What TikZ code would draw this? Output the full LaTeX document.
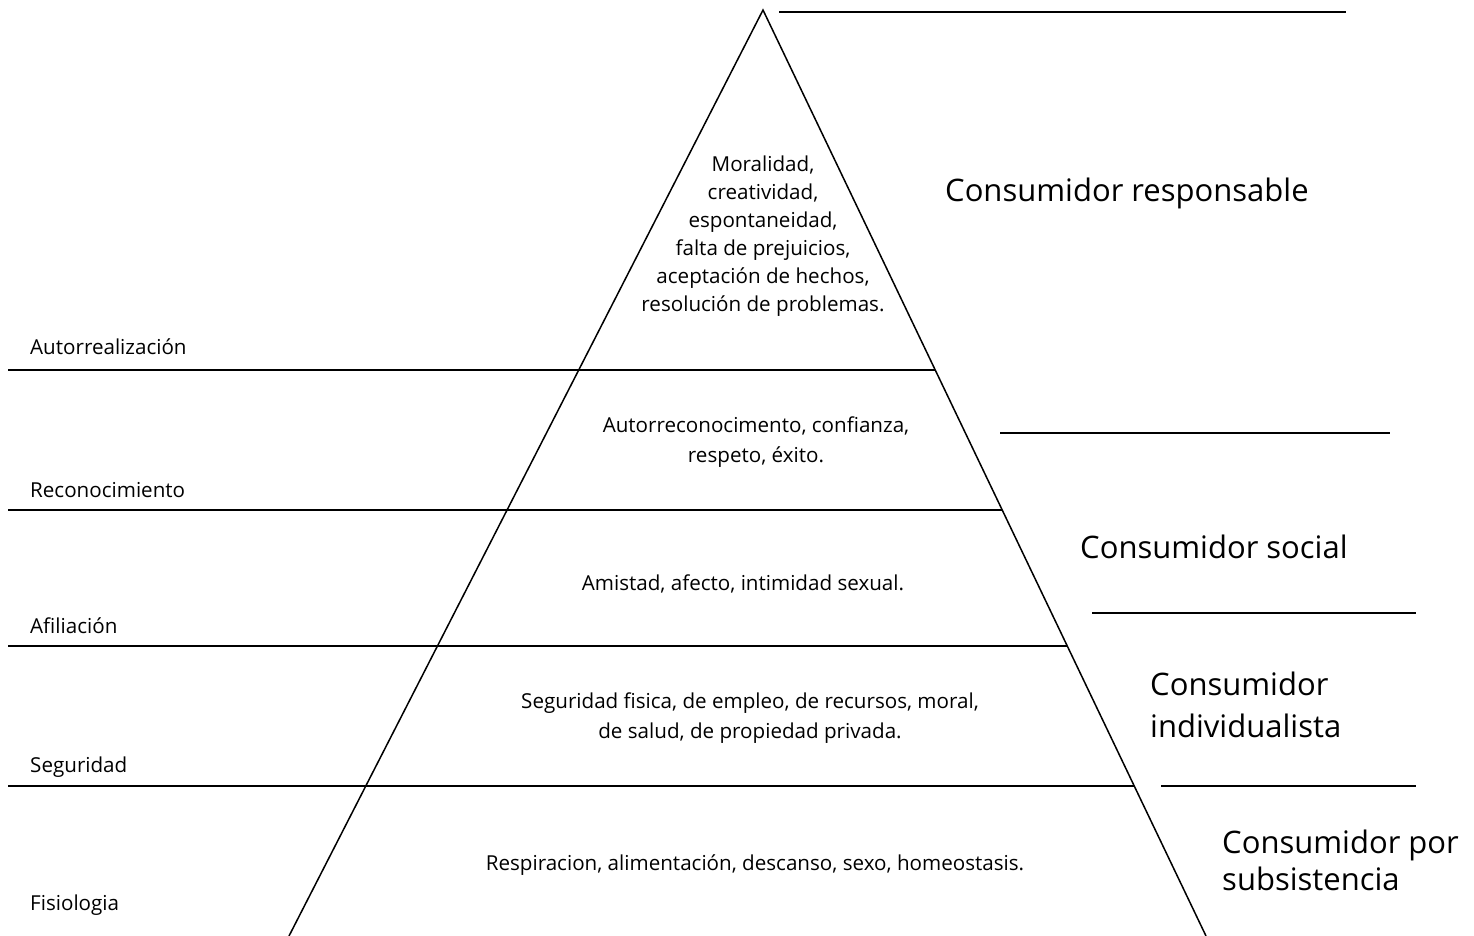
\documentclass[tikz,border=0pt]{standalone}
\usepackage{fontspec}
\setmainfont{Open Sans}
\usetikzlibrary{calc}

\tikzset{
  edge/.style={line width=1.5pt, black},
  tier/.style={line width=1.7pt, black},
  small/.style={font=\fontsize{20.6}{29.5}\selectfont, inner sep=0pt, align=center},
  smallleft/.style={font=\fontsize{20.6}{29.5}\selectfont, inner sep=0pt, anchor=base west},
  big/.style={font=\fontsize{31}{41.5}\selectfont, inner sep=0pt, align=left},
}

\begin{document}
\begin{tikzpicture}[x=1pt, y=-1pt]
  \useasboundingbox (0,0) rectangle (1474,936);

  % pyramid outline
  \coordinate (apex) at (763,10);
  \coordinate (bl) at (289,936);
  \coordinate (br) at (1206,936);
  \draw[edge, line join=miter] (bl) -- (apex) -- (br);

  % points on the right side where the tiers end
  \path (apex) -- (br)
    coordinate[pos=0.38877] (r1)
    coordinate[pos=0.53996] (r2)
    coordinate[pos=0.68683] (r3)
    coordinate[pos=0.83801] (r4);
  \coordinate (l1) at (8,370);
  \coordinate (l2) at (8,510);
  \coordinate (l3) at (8,646);
  \coordinate (l4) at (8,786);
  \draw[tier] (l1) -- (r1);
  \draw[tier] (l2) -- (r2);
  \draw[tier] (l3) -- (r3);
  \draw[tier] (l4) -- (r4);

  % separators on the right
  \coordinate (s1a) at (779,12);   \coordinate (s1b) at (1346,12);
  \coordinate (s2a) at (1000,433); \coordinate (s2b) at (1390,433);
  \coordinate (s3a) at (1092,613); \coordinate (s3b) at (1416,613);
  \coordinate (s4a) at (1161,786); \coordinate (s4b) at (1416,786);
  \draw[tier] (s1a) -- (s1b);
  \draw[tier] (s2a) -- (s2b);
  \draw[tier] (s3a) -- (s3b);
  \draw[tier] (s4a) -- (s4b);

  % level names on the left
  \node[smallleft] (n1) at (30,354) {Autorrealización};
  \node[smallleft] (n2) at (30,497) {Reconocimiento};
  \node[smallleft] (n3) at (30,633) {Afiliación};
  \node[smallleft] (n4) at (30,772) {Seguridad};
  \node[smallleft] (n5) at (30,910) {Fisiologia};

  % needs inside the pyramid (base = baseline of the last line)
  \node[small, font=\fontsize{20.6}{28}\selectfont, anchor=base] (t1) at (763,311) {Moralidad,\\creatividad,\\espontaneidad,\\falta de prejuicios,\\aceptación de hechos,\\resolución de problemas.};
  \node[small, anchor=base] (t2) at (756,462) {Autorreconocimento, confianza,\\respeto, éxito.};
  \node[small, anchor=base] (t3) at (743,590) {Amistad, afecto, intimidad sexual.};
  \node[small, anchor=base] (t4) at (750,738) {Seguridad fisica, de empleo, de recursos, moral,\\de salud, de propiedad privada.};
  \node[small, anchor=base] (t5) at (755,870) {Respiracion, alimentación, descanso, sexo, homeostasis.};

  % consumer types on the right
  \node[big, anchor=base west] (c1) at (945,201) {Consumidor responsable};
  \node[big, anchor=base west] (c2) at (1080,558) {Consumidor social};
  \node[big, anchor=base west] (c3) at (1150,737) {Consumidor\\individualista};
  \node[big, font=\fontsize{31}{37}\selectfont, anchor=base west] (c4) at (1222,890) {Consumidor por\\subsistencia};
\end{tikzpicture}
\end{document}
